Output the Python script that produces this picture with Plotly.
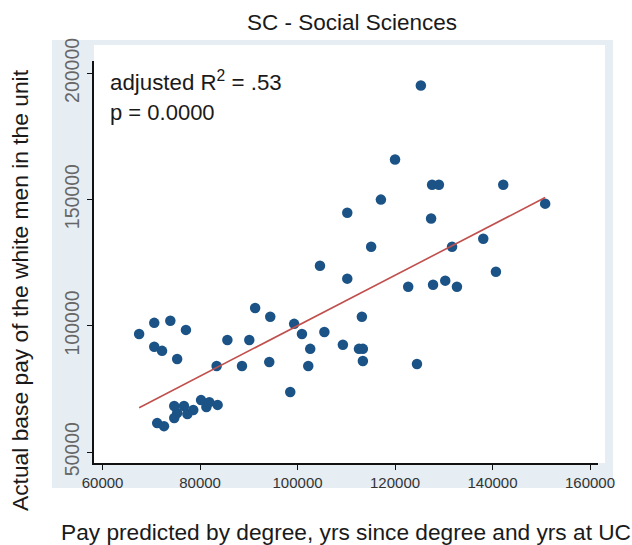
import plotly.graph_objects as go

# ---- data ----
predicted_pay = [67500, 70600, 73900, 77100, 70600, 72200, 75300, 71200, 72600, 74700,
                 75300, 74700, 76700, 77400, 78600, 80200, 81300, 81900, 83600, 83400,
                 85600, 88600, 90100, 91300, 94200, 94400, 98500, 99300, 100900, 102200,
                 102600, 104600, 105500, 109300, 110200, 110200, 112600, 113200, 113400, 113400,
                 115100, 117100, 120000, 122700, 124500, 125300, 127400, 127600, 127800, 129000,
                 130300, 131700, 132700, 138100, 140700, 142200, 150800]
actual_pay = [96800, 101200, 102000, 98400, 91700, 90100, 86900, 61500, 60300, 68300,
              65500, 63500, 68300, 65100, 66700, 70600, 67900, 69800, 68700, 84100,
              94400, 84100, 94400, 107100, 85700, 103600, 73800, 100800, 96800, 84100,
              90900, 123800, 97600, 92500, 144800, 118700, 90900, 103600, 90900, 86100,
              131300, 150000, 165900, 115500, 84900, 195200, 142500, 155900, 116300, 155900,
              117900, 131300, 115500, 134500, 121400, 155900, 148400]
fit_x = [67500, 150800]
fit_y = [67600, 150800]
x_ticks = [60000, 80000, 100000, 120000, 140000, 160000]
y_ticks = [50000, 100000, 150000, 200000]

title_text = "SC - Social Sciences"
x_title = "Pay predicted by degree, yrs since degree and yrs at UC"
y_title = "Actual base pay of the white men in the unit"
stat_lines = ["adjusted R<sup>2</sup> = .53", "p = 0.0000"]

W, H = 632, 545
L, R, T, B = 94, 34, 61, 82
pw, ph = W - L - R, H - T - B


def px(xp):
    return (xp - L) / pw


def py(yp):
    return (H - B - yp) / ph


FONT = "Liberation Sans, Arial, sans-serif"
NARROW = "Liberation Sans Narrow, Arial Narrow, Liberation Sans, sans-serif"

fig = go.Figure()
fig.add_trace(go.Scatter(
    x=predicted_pay, y=actual_pay, mode="markers",
    marker=dict(color="#1b5386", size=10.5, line=dict(width=0)),
    showlegend=False, hoverinfo="x+y"))
fig.add_trace(go.Scatter(
    x=fit_x, y=fit_y, mode="lines",
    line=dict(color="#c0504d", width=1.6),
    showlegend=False, hoverinfo="skip"))

shapes = [
    dict(type="rect", xref="paper", yref="paper", x0=px(52), x1=px(613), y0=py(488), y1=py(40),
         fillcolor="#e6eef3", line=dict(width=0), layer="below"),
    dict(type="rect", xref="paper", yref="paper", x0=px(94), x1=px(605), y0=py(463), y1=py(45),
         fillcolor="#ffffff", line=dict(width=0), layer="below"),
]

annotations = [
    dict(text=x_title, xref="paper", yref="paper", x=px(346), y=py(532), xanchor="center",
         yanchor="middle", showarrow=False, font=dict(family=FONT, size=22.7, color="#1a1a1a")),
    dict(text=y_title, xref="paper", yref="paper", x=px(20), y=py(290), xanchor="center",
         yanchor="middle", textangle=-90, showarrow=False,
         font=dict(family=FONT, size=22.8, color="#1a1a1a")),
    dict(text=stat_lines[0], xref="paper", yref="paper", x=px(108), y=py(81), xanchor="left",
         yanchor="middle", showarrow=False, font=dict(family=FONT, size=22.3, color="#1a1a1a")),
    dict(text=stat_lines[1], xref="paper", yref="paper", x=px(108), y=py(113), xanchor="left",
         yanchor="middle", showarrow=False, font=dict(family=FONT, size=22, color="#1a1a1a")),
]

fig.update_layout(
    width=W, height=H,
    margin=dict(l=L, r=R, t=T, b=B, pad=0),
    paper_bgcolor="#ffffff", plot_bgcolor="rgba(0,0,0,0)",
    title=dict(text=title_text, xref="container", yref="container", x=352 / W, y=1 - 22 / H,
               xanchor="center", yanchor="middle",
               font=dict(family=FONT, size=22.5, color="#1a1a1a")),
    shapes=shapes, annotations=annotations,
    xaxis=dict(range=[58240, 161640], tickvals=x_ticks, ticktext=[str(v) for v in x_ticks],
               showgrid=False, zeroline=False, showline=True, linecolor="#111", linewidth=1.6,
               ticks="outside", ticklen=5, tickwidth=1.2, tickcolor="#111",
               tickfont=dict(family=NARROW, size=15, color="#333")),
    yaxis=dict(range=[45700, 204880], tickvals=y_ticks, ticktext=[str(v) for v in y_ticks],
               showgrid=False, zeroline=False, showline=True, linecolor="#111", linewidth=1.6,
               ticks="outside", ticklen=5, tickwidth=1.2, tickcolor="#111", tickangle=-90,
               tickfont=dict(family=NARROW, size=19.5, color="#666")),
)

fig.write_html(
    "out.html",
    config={"displayModeBar": False},
    post_script="document.body.style.margin='0';document.body.style.padding='0';"
                "document.body.style.overflow='hidden';",
)
